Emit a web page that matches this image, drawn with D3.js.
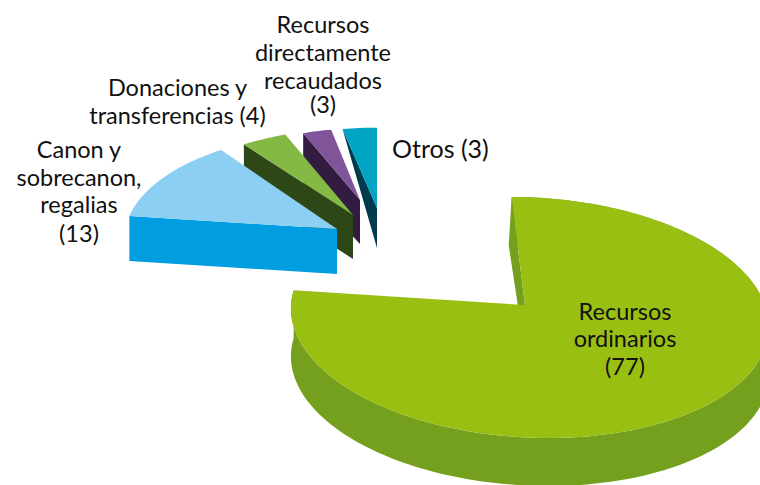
<!DOCTYPE html>
<html><head><meta charset="utf-8"><script src="https://cdn.jsdelivr.net/npm/d3@7"></script>
<style>html,body{margin:0;background:#fff}svg{display:block}text{font-family:Lato,sans-serif;font-size:23.5px;fill:#111}</style></head>
<body><svg id="c" width="760" height="485"></svg><script>
const categories = ["Recursos ordinarios","Canon y sobrecanon, regalias","Donaciones y transferencias","Recursos directamente recaudados","Otros"];
const values = [77,13,4,3,3];
const topColors = ["#9abf13","#8dcff3","#83b944","#7f5499","#00a5c4"];
const wallColors = ["#74a01d","#009de0","#2d4716","#321c42","#003a4f"];
const labelLines = [["Recursos","ordinarios","(77)"],["Canon y","sobrecanon,","regalias","(13)"],["Donaciones y","transferencias (4)"],["Recursos","directamente","recaudados","(3)"],["Otros (3)"]];

const layout = [
 {ax:525,ay:305,r:1,xk:1,depth:48,farDepth:48,q:18,xs:3,lx:625,ly:[320,347,375],anchor:"middle",fs:23.5},
 {ax:337,ay:229,r:.88,xk:1.015,depth:45,farDepth:45,q:0,xs:0,lx:79,ly:[158,186,213,242],anchor:"middle",fs:23.5},
 {ax:353,ay:215,r:.78,xk:1.07,depth:44,farDepth:44,q:0,xs:0,lx:177.5,ly:[96,124],anchor:"middle",fs:23.5},
 {ax:360,ay:200,r:.64,xk:1.08,depth:44,farDepth:50,q:0,xs:0,lx:323,ly:[33,61,89,113],anchor:"middle",fs:23.5},
 {ax:377,ay:208,r:.725,xk:1.15,depth:40,farDepth:0,q:0,xs:0,lx:392,ly:[158],anchor:"start",fs:25}
];
const A=237,B=119.2,k=.104;
const pie=d3.pie().sort(null).startAngle(0).endAngle(2*Math.PI);
const arcs=pie(values);
const svg=d3.select("#c");
const line=d3.line();
function rim(a,l,off=0){const u=Math.sin(a)*l.r,v=Math.cos(a)*l.r,w=1+k*v;
 return [l.ax+l.xs*l.r+(A*l.xk*u-l.q*v)/w, l.ay-B*v/w+off];}
function rimPts(d,l,off){const n=Math.max(2,Math.ceil((d.endAngle-d.startAngle)*40));return d3.range(n+1).map(i=>rim(d.startAngle+(d.endAngle-d.startAngle)*i/n,l,off));}
for(const i of [4,3,2,1,0]){
 const d=arcs[i],l=layout[i],g=svg.append("g");
 const top=rimPts(d,l,0),apex=[l.ax,l.ay];
 if(i==0){g.append("path").attr("d",line(top.concat(rimPts(d,l,l.depth).reverse()))+"Z").attr("fill",wallColors[i]);}
 const s=top[0];
 const far=i==0?[s[0]-3,s[1]+l.farDepth]:[s[0],s[1]+l.farDepth];
 g.append("path").attr("d",line([s,far,[l.ax,l.ay+l.depth],apex])+"Z").attr("fill",wallColors[i]);
 g.append("path").attr("d",line([apex].concat(top))+"Z").attr("fill",topColors[i]);
 const t=svg.append("text").attr("text-anchor",l.anchor).style("font-size",l.fs+"px");
 labelLines[i].forEach((s,j)=>t.append("tspan").attr("x",l.lx).attr("y",l.ly[j]).text(s));
}
</script></body></html>
